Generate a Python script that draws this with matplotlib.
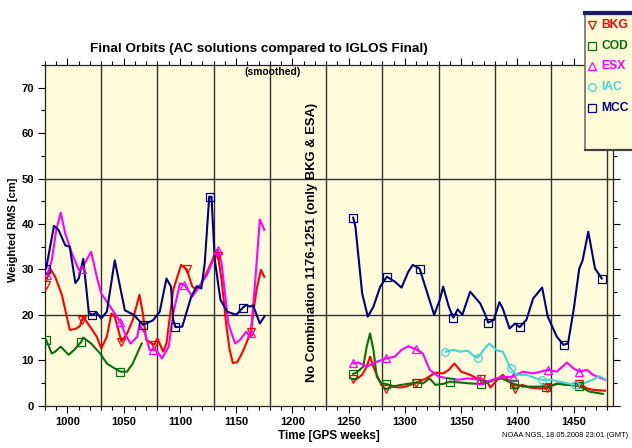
#!/usr/bin/env python3
"""
Final Orbits - AC solutions compared to IGLOS Final (smoothed)
"""
import matplotlib
matplotlib.use('Agg')
import matplotlib.pyplot as plt
from matplotlib.ticker import MultipleLocator
import numpy as np

plt.rcParams['font.family'] = ['Liberation Sans', 'DejaVu Sans']

# ---- data (GPS week, weighted RMS cm) ----
# BKG
bkg_x1 = [981, 985, 989, 995, 1002, 1007, 1011, 1014, 1020, 1026, 1030, 1035, 1039, 1042, 1048,
          1053, 1058, 1064, 1067, 1070, 1077, 1080, 1085, 1088, 1094, 1101, 1106, 1111, 1115, 1119,
          1125, 1130, 1133, 1137, 1141, 1144, 1147, 1151, 1156, 1160, 1163, 1168, 1172, 1175]
bkg_y1 = [27.6, 30.0, 28.4, 24.4, 16.7, 16.9, 17.5, 19.6, 17.4, 15.2, 12.6, 15.2, 20.3, 19.6, 14.1,
          15.9, 18.9, 24.4, 20.3, 14.5, 13.4, 14.8, 11.9, 13.7, 25.5, 31.0, 30.0, 26.2, 25.5, 26.9,
          29.9, 32.8, 34.3, 27.7, 18.1, 12.5, 9.4, 9.6, 12.0, 14.4, 16.3, 25.5, 29.9, 28.4]
bkg_x2 = [1254, 1256, 1262, 1266, 1269, 1273, 1279, 1283, 1288, 1296, 1302, 1310, 1319, 1327,
          1334, 1339, 1344, 1350, 1358, 1364, 1368, 1373, 1376, 1382, 1387, 1393, 1398, 1404,
          1411, 1419, 1426, 1435, 1444, 1455, 1462, 1467, 1478]
bkg_y2 = [5.8, 5.7, 6.8, 8.6, 10.8, 7.9, 4.6, 3.6, 4.2, 4.0, 4.3, 5.1, 6.0, 7.3,
          7.1, 7.9, 9.3, 7.5, 6.8, 6.0, 5.8, 5.3, 4.0, 5.7, 6.8, 5.3, 3.7, 4.6,
          4.0, 3.8, 3.8, 4.9, 4.6, 4.8, 3.8, 3.5, 3.3]
bkg_mx = [981, 1013, 1048, 1077, 1106, 1134, 1163, 1254, 1283, 1310, 1368, 1398, 1426, 1455]
bkg_my = [26.6, 18.9, 14.1, 13.4, 30.0, 33.0, 16.3, 5.8, 3.6, 5.1, 5.8, 3.7, 3.8, 4.8]

# COD
cod_x1 = [981, 986, 989, 994, 1001, 1006, 1012, 1014, 1021, 1029, 1035, 1042, 1047, 1053, 1058, 1066]
cod_y1 = [14.5, 11.5, 11.9, 13.0, 11.2, 12.3, 14.0, 15.0, 13.7, 11.5, 9.3, 8.2, 7.5, 7.5, 9.3, 13.7]
cod_x2 = [1254, 1257, 1263, 1266, 1269, 1272, 1275, 1279, 1283, 1290, 1302, 1311, 1316, 1322,
          1327, 1334, 1340, 1349, 1358, 1368, 1376, 1380, 1386, 1397, 1405, 1414, 1425, 1436,
          1444, 1455, 1464, 1476]
cod_y2 = [7.0, 7.3, 8.6, 13.0, 15.9, 12.3, 6.4, 4.9, 4.8, 4.3, 4.8, 5.1, 4.9, 6.0,
          4.6, 4.8, 5.3, 5.1, 4.9, 4.8, 5.3, 5.8, 6.0, 4.8, 4.2, 4.2, 4.2, 4.8,
          4.6, 4.3, 3.1, 2.6]
cod_mx = [981, 1012, 1047, 1254, 1283, 1311, 1340, 1368, 1397, 1425, 1455]
cod_my = [14.5, 14.0, 7.5, 7.0, 4.8, 5.1, 5.3, 4.8, 4.8, 4.2, 4.3]

# ESX
esx_x1 = [982, 986, 990, 994, 998, 1004, 1010, 1013, 1016, 1021, 1026, 1030, 1038, 1042, 1047,
          1051, 1056, 1062, 1064, 1069, 1073, 1076, 1079, 1084, 1090, 1094, 1100, 1104, 1107,
          1111, 1118, 1124, 1130, 1134, 1137, 1143, 1149, 1153, 1159, 1162, 1163, 1167, 1171, 1175]
esx_y1 = [28.8, 32.0, 38.7, 42.5, 37.9, 33.5, 29.9, 30.2, 31.7, 33.9, 28.4, 24.7, 21.8, 20.3, 18.5,
          15.9, 13.7, 15.2, 17.8, 15.9, 12.3, 12.3, 12.3, 10.4, 13.0, 20.3, 26.9, 26.6, 25.5,
          24.0, 26.6, 28.8, 32.4, 34.3, 31.3, 18.1, 13.7, 14.4, 16.3, 15.2, 16.0, 27.7, 41.0, 38.7]
esx_x2 = [1254, 1259, 1266, 1273, 1283, 1291, 1297, 1303, 1310, 1316, 1322, 1330, 1339, 1347,
          1356, 1367, 1373, 1379, 1384, 1396, 1405, 1414, 1427, 1435, 1444, 1450, 1455, 1462,
          1467, 1478]
esx_y2 = [9.3, 9.5, 8.6, 9.5, 10.4, 10.8, 12.3, 13.1, 12.4, 11.5, 7.9, 6.4, 6.0, 5.7,
          6.0, 5.7, 5.3, 5.8, 6.2, 6.4, 7.5, 7.1, 7.9, 7.5, 9.5, 8.2, 7.5, 7.9,
          6.8, 5.7]
esx_mx = [982, 1013, 1047, 1076, 1104, 1134, 1163, 1254, 1283, 1310, 1367, 1396, 1427, 1455]
esx_my = [28.8, 30.2, 18.5, 12.3, 26.6, 34.3, 16.0, 9.3, 10.4, 12.4, 5.7, 6.4, 7.9, 7.5]

# IAC
iac_x = [1336, 1343, 1349, 1356, 1362, 1365, 1370, 1375, 1382, 1387, 1394, 1399, 1408, 1417,
         1422, 1430, 1441, 1451, 1459, 1467, 1473, 1478]
iac_y = [11.9, 12.3, 11.9, 12.1, 10.8, 10.6, 12.3, 13.7, 12.1, 11.9, 8.2, 6.8, 6.8, 6.0,
         5.7, 5.7, 5.1, 4.6, 4.9, 5.7, 6.5, 5.8]
iac_mx = [1336, 1365, 1394, 1422, 1451]
iac_my = [11.9, 10.6, 8.2, 5.7, 4.6]

# MCC
mcc_x1 = [981, 988, 992, 998, 1002, 1007, 1010, 1014, 1019, 1022, 1026, 1030, 1035, 1042, 1051,
          1059, 1067, 1076, 1082, 1088, 1092, 1094, 1096, 1102, 1110, 1115, 1119, 1122, 1126,
          1128, 1131, 1136, 1142, 1150, 1156, 1159, 1162, 1165, 1171, 1175]
mcc_y1 = [30.2, 39.6, 38.7, 35.3, 35.0, 27.0, 28.0, 32.3, 20.4, 20.0, 20.5, 19.2, 20.7, 32.0, 21.0,
          20.0, 17.8, 18.8, 20.7, 28.0, 26.2, 18.9, 17.3, 17.4, 24.0, 26.3, 25.8, 31.3, 46.0,
          46.0, 32.0, 23.3, 20.7, 20.0, 21.6, 22.2, 21.8, 22.1, 18.1, 19.6]
mcc_x2 = [1254, 1256, 1262, 1267, 1272, 1278, 1284, 1291, 1297, 1303, 1307, 1313, 1319, 1326,
          1331, 1334, 1339, 1343, 1347, 1351, 1358, 1367, 1371, 1374, 1379, 1384, 1387, 1393,
          1398, 1402, 1408, 1414, 1422, 1427, 1435, 1441, 1445, 1450, 1455, 1458, 1463, 1469, 1475]
mcc_y2 = [41.4, 39.4, 24.7, 19.6, 21.8, 26.2, 28.4, 27.3, 26.0, 29.5, 31.0, 30.2, 25.5, 20.0,
          23.3, 26.2, 21.8, 19.4, 21.2, 20.0, 25.1, 22.5, 20.3, 18.3, 18.9, 22.8, 21.4, 17.0,
          18.1, 17.3, 18.9, 23.6, 26.0, 19.6, 15.2, 13.4, 13.7, 21.1, 30.2, 32.0, 38.3, 30.2, 28.0]
mcc_mx = [981, 1022, 1067, 1096, 1127, 1156, 1254, 1284, 1313, 1343, 1374, 1402, 1441, 1475]
mcc_my = [30.2, 20.0, 17.8, 17.3, 46.0, 21.6, 41.4, 28.4, 30.2, 19.4, 18.3, 17.3, 13.4, 28.0]

names = ['BKG', 'COD', 'ESX', 'IAC', 'MCC']
colors = ['#FF0000', '#0A6E0A', '#FF00FF', '#40D8D0', '#000080']
markers = ['v', 's', '^', 'o', 's']

grid_x = [1030, 1080, 1130, 1180, 1230, 1280, 1330, 1380, 1430, 1480]
grid_y = [20, 50]

series = [
    ([(bkg_x1, bkg_y1), (bkg_x2, bkg_y2)], (bkg_mx, bkg_my)),
    ([(cod_x1, cod_y1), (cod_x2, cod_y2)], (cod_mx, cod_my)),
    ([(esx_x1, esx_y1), (esx_x2, esx_y2)], (esx_mx, esx_my)),
    ([(iac_x, iac_y)], (iac_mx, iac_my)),
    ([(mcc_x1, mcc_y1), (mcc_x2, mcc_y2)], (mcc_mx, mcc_my)),
]

fig = plt.figure(figsize=(6.32, 4.48), dpi=100)
ax = fig.add_axes([45 / 632, 42.3 / 448, 568 / 632, 340.7 / 448])
ax.set_facecolor('#FFFCDC')

# gitter
for gx in grid_x:
    ax.axvline(gx, color='#303030', linewidth=1.0, zorder=1)
for gy in grid_y:
    ax.axhline(gy, color='#303030', linewidth=1.0, zorder=1)

# Kurven
for (segs, (mx, my)), c, m in zip(series, colors, markers):
    for sx, sy in segs:
        ax.plot(sx, sy, color=c, linewidth=1.5, zorder=3)
    ax.plot(mx, my, linestyle='none', marker=m, markersize=5.5,
            markerfacecolor='none', markeredgecolor=c, markeredgewidth=0.9, zorder=4)

ax.set_xlim(980, 1485)
ax.set_ylim(0, 75)
ax.xaxis.set_major_locator(MultipleLocator(50))
ax.xaxis.set_minor_locator(MultipleLocator(10))
ax.yaxis.set_major_locator(MultipleLocator(10))
ax.yaxis.set_minor_locator(MultipleLocator(5))
ax.set_xticks(np.arange(1000, 1451, 50))
ax.tick_params(which='both', direction='out', top=True, right=True, width=0.8)
ax.tick_params(which='major', length=5, labelsize=8, pad=3)
ax.tick_params(which='minor', length=3)
for lab in ax.get_xticklabels() + ax.get_yticklabels():
    lab.set_fontweight('bold')
for sp in ax.spines.values():
    sp.set_color('#202020')
    sp.set_linewidth(0.9)

ax.set_xlabel('Time [GPS weeks]', fontsize=8.5, fontweight='bold')
ax.xaxis.set_label_coords(0.5, -0.071)
ax.set_ylabel('Weighted RMS [cm]', fontsize=8, fontweight='bold')
ax.yaxis.set_label_coords(-0.047, 0.516)

ax.text(0.401, 0.979, '(smoothed)', transform=ax.transAxes, ha='center', va='center',
        fontsize=7.5, fontweight='bold')
ax.text(1217, 36, 'No Combination 1176-1251 (only BKG & ESA)', rotation=90,
        ha='center', va='center', fontsize=9.4, fontweight='bold', zorder=5)

fig.text(258.5 / 632, 1 - 49 / 448, 'Final Orbits (AC solutions compared to IGLOS Final)',
         ha='center', va='center', fontsize=9.7, fontweight='bold')
fig.text(565 / 632, 1 - 435 / 448, 'NOAA NGS, 18.05.2008 23:01 (GMT)',
         ha='center', va='center', fontsize=5.4)

# Legende
lax = fig.add_axes([585 / 632, 1 - 150 / 448, 60 / 632, 137 / 448])
lax.set_facecolor('#FFFBD6')
lax.set_xlim(0, 1)
lax.set_ylim(137, 0)
lax.set_xticks([])
lax.set_yticks([])
for sp in lax.spines.values():
    sp.set_color('#707070')
    sp.set_linewidth(1.2)
lax.spines['top'].set_color('#1A1A6E')
lax.spines['top'].set_linewidth(3)
lax.spines['bottom'].set_color('#404040')
lax.spines['bottom'].set_linewidth(1.6)
for i, (n, c, m) in enumerate(zip(names, colors, markers)):
    yy = 12 + i * 20.7
    lax.plot([0.12], [yy], marker=m, markersize=5.5, markerfacecolor='none',
             markeredgecolor=c, markeredgewidth=0.9, clip_on=False)
    lax.text(0.27, yy, n, color=c, fontsize=8.7, fontweight='bold', ha='left', va='center')

plt.savefig('out.png', dpi=100)
plt.close()
